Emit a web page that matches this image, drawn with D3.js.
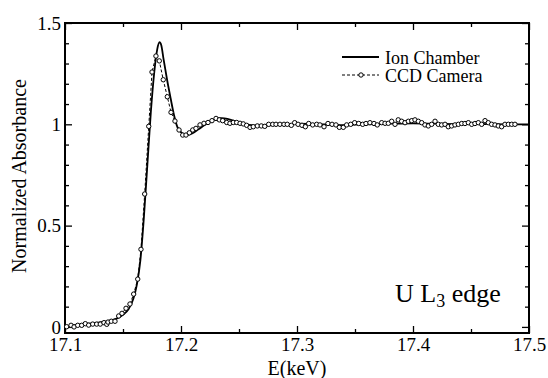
<!DOCTYPE html>
<html>
<head>
<meta charset="utf-8">
<script src="https://cdn.jsdelivr.net/npm/d3@7"></script>
<style>
  body { margin: 0; background: #fff; }
</style>
</head>
<body>
<div id="chart"></div>
<script>
// ion chamber spectrum (solid line)
var ionE = [17.100, 17.110, 17.120, 17.130, 17.138, 17.144, 17.150, 17.155, 17.159, 17.162,
  17.165, 17.168, 17.171, 17.174, 17.177, 17.1795, 17.1815, 17.183, 17.185, 17.188,
  17.191, 17.194, 17.197, 17.200, 17.203, 17.206, 17.210, 17.215, 17.220, 17.225,
  17.230, 17.235, 17.240, 17.245, 17.250, 17.255, 17.262, 17.270, 17.280, 17.290,
  17.300, 17.310, 17.320, 17.330, 17.340, 17.350, 17.360, 17.380, 17.400, 17.420,
  17.440, 17.460, 17.480, 17.500];
var ionAbs = [0.000, 0.010, 0.016, 0.022, 0.030, 0.040, 0.060, 0.090, 0.140, 0.210,
  0.330, 0.540, 0.800, 1.060, 1.260, 1.370, 1.405, 1.390, 1.320, 1.220,
  1.130, 1.045, 0.985, 0.962, 0.950, 0.948, 0.956, 0.975, 0.995, 1.012,
  1.025, 1.030, 1.027, 1.018, 1.008, 1.000, 0.995, 0.993, 0.997, 1.000,
  1.003, 1.002, 1.000, 0.998, 0.996, 0.998, 1.000, 1.003, 1.005, 1.003,
  1.001, 1.001, 1.000, 1.000];

// CCD camera spectrum (dashed line with circles)
var ccdE = [17.1014, 17.1052, 17.1078, 17.1110, 17.1144, 17.1175, 17.1204, 17.1239, 17.1273, 17.1304,
  17.1336, 17.1360, 17.1371, 17.1399, 17.1431, 17.1463, 17.1491, 17.1526, 17.1560, 17.1592,
  17.1627, 17.1655, 17.1687, 17.1722, 17.1750, 17.1784, 17.1813, 17.1847, 17.1882, 17.1914,
  17.1948, 17.1983, 17.2015, 17.2043, 17.2072, 17.2101, 17.2129, 17.2164, 17.2198, 17.2233,
  17.2267, 17.2302, 17.2330, 17.2359, 17.2394, 17.2422, 17.2451, 17.2480, 17.2509, 17.2537,
  17.2566, 17.2595, 17.2623, 17.2658, 17.2692, 17.2722, 17.2756, 17.2791, 17.2819, 17.2853,
  17.2888, 17.2916, 17.2951, 17.2980, 17.3009, 17.3043, 17.3072, 17.3101, 17.3135, 17.3170,
  17.3198, 17.3233, 17.3267, 17.3302, 17.3336, 17.3365, 17.3399, 17.3428, 17.3463, 17.3497,
  17.3532, 17.3566, 17.3595, 17.3629, 17.3664, 17.3692, 17.3730, 17.3759, 17.3787, 17.3816,
  17.3845, 17.3873, 17.3902, 17.3931, 17.3960, 17.3989, 17.4017, 17.4046, 17.4075, 17.4103,
  17.4132, 17.4161, 17.4190, 17.4218, 17.4247, 17.4276, 17.4304, 17.4333, 17.4362, 17.4391,
  17.4420, 17.4448, 17.4477, 17.4506, 17.4534, 17.4563, 17.4592, 17.4621, 17.4649, 17.4678,
  17.4707, 17.4735, 17.4764, 17.4793, 17.4822, 17.4851, 17.4879];
var ccdAbs = [0.001, 0.008, 0.000, 0.008, 0.008, 0.016, 0.009, 0.014, 0.014, 0.014,
  0.021, 0.013, 0.024, 0.028, 0.028, 0.054, 0.067, 0.092, 0.113, 0.162,
  0.236, 0.383, 0.656, 0.990, 1.258, 1.337, 1.313, 1.220, 1.136, 1.059,
  1.016, 0.972, 0.947, 0.947, 0.958, 0.972, 0.980, 0.997, 1.005, 1.009,
  1.018, 1.029, 1.022, 1.018, 1.009, 1.005, 1.009, 1.009, 1.005, 1.002,
  0.995, 0.985, 0.988, 0.992, 0.992, 0.990, 1.000, 1.000, 1.000, 1.000,
  1.000, 1.000, 0.995, 1.008, 1.000, 0.995, 0.988, 1.004, 0.997, 1.000,
  0.997, 0.988, 1.004, 1.000, 0.997, 0.985, 0.985, 0.997, 1.000, 1.008,
  1.004, 1.000, 1.004, 1.008, 1.004, 0.997, 1.008, 1.005, 1.005, 1.015,
  1.000, 1.022, 1.015, 1.008, 1.015, 1.018, 1.022, 1.015, 1.008, 0.997,
  0.992, 1.000, 1.015, 1.000, 0.997, 1.000, 0.988, 0.992, 0.997, 1.000,
  1.004, 1.004, 1.008, 1.000, 1.004, 1.008, 1.000, 1.018, 1.008, 1.000,
  0.997, 0.992, 0.988, 1.000, 1.000, 1.000, 1.000];

var xMajor = [17.1, 17.2, 17.3, 17.4, 17.5];
var xMinor = [17.15, 17.25, 17.35, 17.45];
var yMajor = [0, 0.5, 1, 1.5];
var yMinor = [0.1, 0.2, 0.3, 0.4, 0.6, 0.7, 0.8, 0.9, 1.1, 1.2, 1.3, 1.4];
var legendLabels = ["Ion Chamber", "CCD Camera"];

var serif = "'Liberation Serif', 'Times New Roman', Times, 'DejaVu Serif', serif";

// set the dimensions and margins of the graph
var W = 548, H = 378;
var margin = { top: 23, right: 19, bottom: 45, left: 65 },
  width = W - margin.left - margin.right,
  height = H - margin.top - margin.bottom;

var x = d3.scaleLinear().domain([17.1, 17.5]).range([0, width]);
var y = d3.scaleLinear().domain([-0.03, 1.5]).range([height, 0]);

var svg = d3.select("#chart").append("svg")
  .attr("width", W)
  .attr("height", H)
  .append("g")
  .attr("transform", "translate(" + margin.left + "," + margin.top + ")");

// axes with inward ticks on all four sides
function tickStyle(g) {
  g.attr("font-family", null);
  g.select(".domain").remove();
  g.selectAll("line").attr("stroke", "#000").attr("stroke-width", 1.3);
}

svg.append("g").attr("transform", "translate(0," + height + ")")
  .call(d3.axisBottom(x).tickValues(xMajor).tickSizeInner(-7).tickSizeOuter(0)
    .tickPadding(5).tickFormat(d3.format(".1f")))
  .call(tickStyle)
  .selectAll("text").style("font-size", "19px").style("font-family", serif).attr("fill", "#000");
svg.append("g").attr("transform", "translate(0," + height + ")")
  .call(d3.axisBottom(x).tickValues(xMinor).tickSizeInner(-4).tickSizeOuter(0).tickFormat(""))
  .call(tickStyle);
svg.append("g")
  .call(d3.axisTop(x).tickValues(xMajor).tickSizeInner(-7).tickSizeOuter(0).tickFormat(""))
  .call(tickStyle);
svg.append("g")
  .call(d3.axisTop(x).tickValues(xMinor).tickSizeInner(-4).tickSizeOuter(0).tickFormat(""))
  .call(tickStyle);

svg.append("g")
  .call(d3.axisLeft(y).tickValues(yMajor).tickSizeInner(-7).tickSizeOuter(0)
    .tickPadding(4).tickFormat(function (d) { return d; }))
  .call(tickStyle)
  .selectAll("text").style("font-size", "19px").style("font-family", serif).attr("fill", "#000");
svg.append("g")
  .call(d3.axisLeft(y).tickValues(yMinor).tickSizeInner(-4).tickSizeOuter(0).tickFormat(""))
  .call(tickStyle);
svg.append("g").attr("transform", "translate(" + width + ",0)")
  .call(d3.axisRight(y).tickValues(yMajor).tickSizeInner(-7).tickSizeOuter(0).tickFormat(""))
  .call(tickStyle);
svg.append("g").attr("transform", "translate(" + width + ",0)")
  .call(d3.axisRight(y).tickValues(yMinor).tickSizeInner(-4).tickSizeOuter(0).tickFormat(""))
  .call(tickStyle);

// frame
svg.append("rect")
  .attr("width", width).attr("height", height)
  .attr("fill", "none").attr("stroke", "#000").attr("stroke-width", 2);

// CCD data: dashed line then open circles
var ccd = ccdE.map(function (e, i) { return { e: e, v: ccdAbs[i] }; });
var ion = ionE.map(function (e, i) { return { e: e, v: ionAbs[i] }; });

var lineFn = d3.line()
  .x(function (d) { return x(d.e); })
  .y(function (d) { return y(d.v); });

svg.append("path").datum(ccd)
  .attr("d", lineFn)
  .attr("fill", "none").attr("stroke", "#000")
  .attr("stroke-width", 1).attr("stroke-dasharray", "3,2");

svg.append("path").datum(ion)
  .attr("d", lineFn.curve(d3.curveMonotoneX))
  .attr("fill", "none").attr("stroke", "#000").attr("stroke-width", 1.8);

svg.selectAll("circle.ccd").data(ccd).enter().append("circle")
  .attr("class", "ccd")
  .attr("cx", function (d) { return x(d.e); })
  .attr("cy", function (d) { return y(d.v); })
  .attr("r", 2.2)
  .attr("fill", "#fff").attr("stroke", "#000").attr("stroke-width", 1);

// legend
var leg = svg.append("g").attr("transform", "translate(" + (x(17.3) + 45) + ",34)");
leg.append("line").attr("x1", 0).attr("x2", 37).attr("y1", 0).attr("y2", 0)
  .attr("stroke", "#000").attr("stroke-width", 1.8);
leg.append("line").attr("x1", 0).attr("x2", 37).attr("y1", 18).attr("y2", 18)
  .attr("stroke", "#000").attr("stroke-width", 1).attr("stroke-dasharray", "3,2");
leg.append("circle").attr("cx", 19).attr("cy", 18).attr("r", 2.2)
  .attr("fill", "#fff").attr("stroke", "#000").attr("stroke-width", 1);
leg.selectAll("text.lab").data(legendLabels).enter().append("text")
  .attr("class", "lab")
  .attr("x", 43)
  .attr("y", function (d, i) { return i * 18 + 7; })
  .style("font-size", "18px").style("font-family", serif)
  .text(function (d) { return d; });

// edge annotation
var ann = svg.append("text")
  .attr("x", x(17.4) - 18).attr("y", y(0.15) + 5)
  .style("font-size", "26px").style("font-family", serif);
ann.append("tspan").text("U L");
ann.append("tspan").attr("dy", 5).style("font-size", "18px").text("3");
ann.append("tspan").attr("dy", -5).text(" edge");

// axis titles
svg.append("text")
  .attr("x", width / 2).attr("y", height + 42)
  .attr("text-anchor", "middle")
  .style("font-size", "20px").style("font-family", serif)
  .text("E(keV)");

svg.append("text")
  .attr("transform", "translate(" + (-39) + "," + (height / 2 - 2) + ") rotate(-90)")
  .attr("text-anchor", "middle")
  .style("font-size", "20px").style("font-family", serif)
  .text("Normalized Absorbance");
</script>
</body>
</html>
